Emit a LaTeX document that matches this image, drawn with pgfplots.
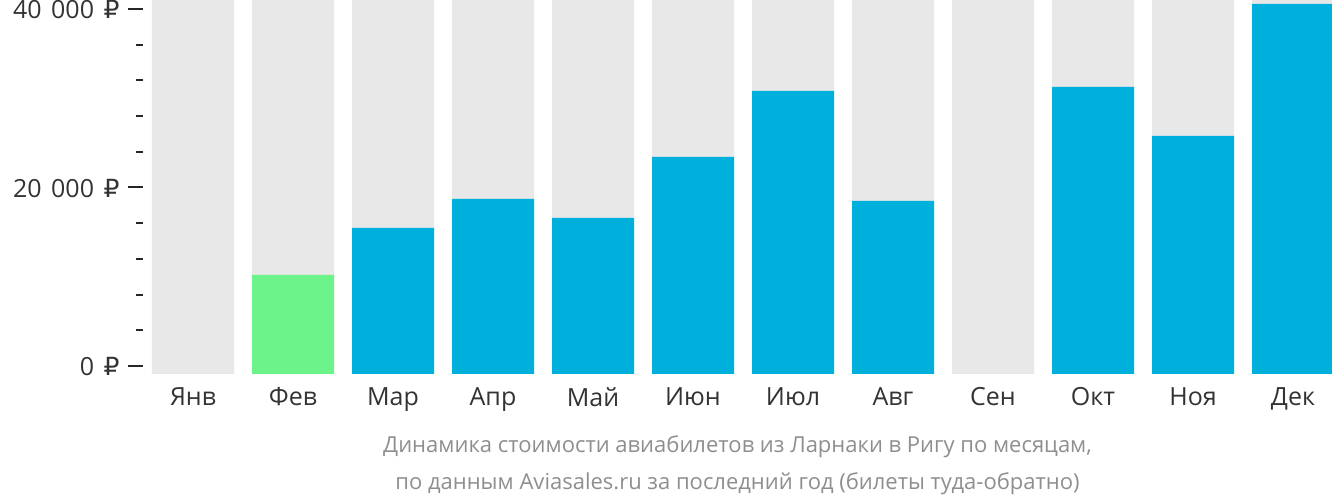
\documentclass[border=0pt]{standalone}
\usepackage{pgfplots}
\pgfplotsset{compat=1.18}
\usepackage{fontspec}
\setmainfont{Open Sans}
\newfontfamily\rub{DejaVu Sans}
\definecolor{bggray}{HTML}{E8E8E8}
\definecolor{barblue}{HTML}{00B0DC}
\definecolor{bargreen}{HTML}{6CF38A}
\definecolor{txt}{HTML}{333333}
\definecolor{cap}{HTML}{8E8E8E}
\begin{document}
\begin{tikzpicture}[x=1pt,y=1pt]
\begin{axis}[
  name=ax,
  at={(0,0)}, anchor=south west,
  width=1189pt, height=374pt, scale only axis,
  xmin=-0.5, xmax=11.39,
  ymin=-900, ymax=41000,
  axis line style={draw=none},
  xtick={0,...,11},
  xticklabels={Янв,Фев,Мар,Апр,Май,Июн,Июл,Авг,Сен,Окт,Ноя,Дек},
  xtick style={draw=none},
  xtick pos=bottom, ytick pos=left,
  ytick={0,20000,40000},
  yticklabels={0\hspace{0.38em}{\rub ₽},20\hspace{0.38em}000\hspace{0.38em}{\rub ₽},40\hspace{0.38em}000\hspace{0.38em}{\rub ₽}},
  minor y tick num=4,
  tick align=outside,
  major tick length=15pt, minor tick length=7pt,
  ytick style={line width=2pt, color=black!85},
  minor tick style={line width=2pt, color=black!85},
  tick label style={font=\fontsize{25}{30}\selectfont, text=txt},
  yticklabel style={xshift=-5pt, yshift=-1pt},
  xticklabel style={yshift=5pt},
  xlabel={Динамика стоимости авиабилетов из Ларнаки в Ригу по месяцам,\\по данным Aviasales.ru за последний год (билеты туда-обратно)},
  xlabel style={font=\fontsize{22}{37}\selectfont, text=cap, align=center, yshift=-17pt},
  clip=true,
]
\addplot[ybar, bar width=82pt, bar shift=0pt, fill=bggray, draw=none] coordinates {
(0,41500) (1,41500) (2,41500) (3,41500) (4,41500) (5,41500) (6,41500) (7,41500) (8,41500) (9,41500) (10,41500) (11,41500)};
\addplot[ybar, bar width=82pt, bar shift=0pt, fill=bggray, draw=none] coordinates {
(0,-900) (8,-900)};
\addplot[ybar, bar width=82pt, bar shift=0pt, fill=bargreen, draw=none] coordinates {
(1,10200) (1,-900)};
\addplot[ybar, bar width=82pt, bar shift=0pt, fill=barblue, draw=none] coordinates {
(2,15460) (3,18710) (4,16580) (5,23420) (6,30810) (7,18490) (9,31260) (10,25770) (11,40560)};
\addplot[ybar, bar width=82pt, bar shift=0pt, fill=barblue, draw=none] coordinates {
(2,-900) (3,-900) (4,-900) (5,-900) (6,-900) (7,-900) (9,-900) (10,-900) (11,-900)};
\end{axis}
\pgfresetboundingbox
\useasboundingbox ([xshift=-143pt,yshift=-128pt]ax.south west) rectangle (ax.north east);
\end{tikzpicture}
\end{document}
